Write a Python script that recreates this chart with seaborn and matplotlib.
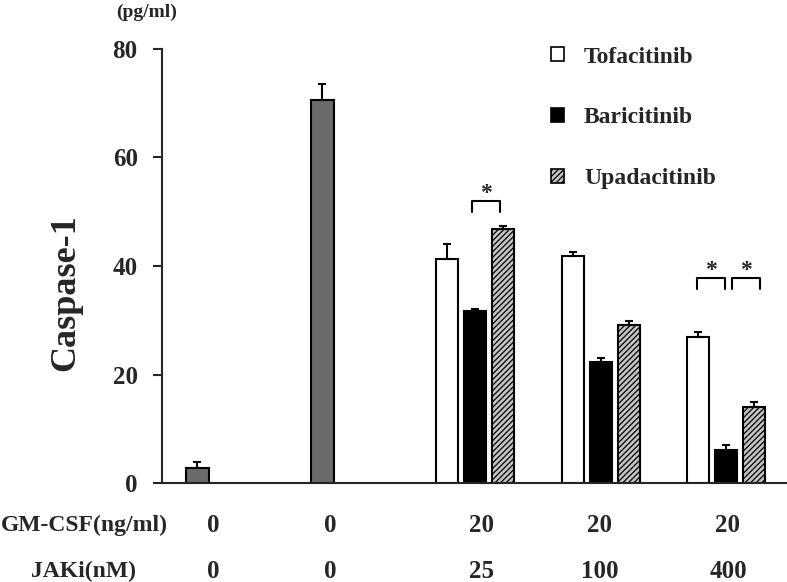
import matplotlib
matplotlib.use("Agg")
import matplotlib.pyplot as plt
from matplotlib.patches import Patch
import seaborn as sns
import pandas as pd
import numpy as np

# values (pg/ml)
control_mean = [2.7, 70.6]
control_err = [1.1, 2.9]

drugs = ["Tofacitinib", "Baricitinib", "Upadacitinib"]
tofa_mean = [41.3, 41.8, 27.0]
tofa_err = [2.8, 0.7, 0.9]
bari_mean = [31.7, 22.3, 6.1]
bari_err = [0.4, 0.7, 0.9]
upa_mean = [46.8, 29.1, 14.0]
upa_err = [0.6, 0.8, 0.9]

gmcsf_labels = ["0", "0", "20", "20", "20"]
jaki_labels = ["0", "0", "25", "100", "400"]

# layout (x in axis pixel units)
ctrl_pos = [35, 160]
drug_pos = [313, 439, 564]
label_pos = [51, 168, 320, 438, 566]

GRAY = "#6b6b6b"
colors = {"Tofacitinib": "white", "Baricitinib": "black", "Upadacitinib": "#c4c4c4"}
hatches = {"Tofacitinib": "", "Baricitinib": "", "Upadacitinib": "//////"}

sns.set_style("ticks")
plt.rcParams["font.family"] = ["Liberation Serif", "DejaVu Serif"]
plt.rcParams["font.weight"] = "bold"
plt.rcParams["hatch.linewidth"] = 0.9

ctrl_df = pd.DataFrame({"pos": ctrl_pos, "value": control_mean})
rows = []
for i, p in enumerate(drug_pos):
    rows.append({"pos": p, "drug": "Tofacitinib", "value": tofa_mean[i]})
    rows.append({"pos": p, "drug": "Baricitinib", "value": bari_mean[i]})
    rows.append({"pos": p, "drug": "Upadacitinib", "value": upa_mean[i]})
drug_df = pd.DataFrame(rows)

fig = plt.figure(figsize=(7.87, 5.82), dpi=100)
ax = fig.add_axes([162 / 787, 1 - 483 / 582, 1 - 162 / 787, (483 - 49) / 582])

sns.barplot(data=ctrl_df, x="pos", y="value", native_scale=True, orient="x",
            color=GRAY, saturation=1, edgecolor="black", linewidth=1.5,
            width=23 / 125, errorbar=None, ax=ax)
sns.barplot(data=drug_df, x="pos", y="value", hue="drug", hue_order=drugs,
            palette=colors, native_scale=True, orient="x", saturation=1,
            edgecolor="black", linewidth=1.5, width=84 / 125, gap=0.18,
            errorbar=None, legend=False, ax=ax)

# bars in left-to-right order
bars = sorted(ax.patches, key=lambda b: b.get_x())
bar_names = ["ctrl", "ctrl"] + drugs * 3
errs = list(control_err)
for i in range(3):
    errs += [tofa_err[i], bari_err[i], upa_err[i]]
for b, name in zip(bars, bar_names):
    if name in hatches:
        b.set_hatch(hatches[name])

xs = [b.get_x() + b.get_width() / 2 for b in bars]
tops = [b.get_height() for b in bars]
ax.errorbar(xs, tops, yerr=[np.zeros(len(errs)), errs], fmt="none",
            ecolor="black", elinewidth=1.5, capsize=3, capthick=1.5, zorder=3)

# significance brackets: (left bar, right bar, top, x shift)
brackets = [(3, 4, 52.0, -3), (8, 9, 37.8, -1.5), (9, 10, 37.8, 5.5)]
for li, ri, yt, dx in brackets:
    x0, x1 = xs[li] + dx, xs[ri] + dx
    ax.plot([x0, x0, x1, x1], [yt - 2.0, yt, yt, yt - 2.0], color="black", lw=1.5)
    ax.text((x0 + x1) / 2, yt + 1.4, "*", ha="center", va="center",
            fontsize=17, fontweight="bold")

ax.set_xlim(0, 625)
ax.set_ylim(0, 80)
ax.set_yticks([0, 20, 40, 60, 80])
ax.set_xticks([])
ax.set_xlabel("")
ax.set_ylabel("Caspase-1", fontsize=26, fontweight="bold")
ax.yaxis.set_label_coords(-0.128, 0.438)
ax.tick_params(axis="y", direction="out", length=6.5, width=1.5, pad=11,
               labelsize=18)
for lab in ax.get_yticklabels():
    lab.set_fontweight("bold")
sns.despine(ax=ax, top=True, right=True)
for s in ("left", "bottom"):
    ax.spines[s].set_linewidth(1.5)

fig.text(147 / 787, 1 - 12 / 582, "(pg/ml)", ha="center", va="center",
         fontsize=14, fontweight="bold")

# condition rows under the axis
trans = matplotlib.transforms.blended_transform_factory(ax.transData, fig.transFigure)
row_y = [1 - 525 / 582, 1 - 571 / 582]
fig.text(84 / 787, row_y[0], "GM-CSF(ng/ml)", ha="center", va="center",
         fontsize=17, fontweight="bold")
fig.text(84 / 787, row_y[1], "JAKi(nM)", ha="center", va="center",
         fontsize=17, fontweight="bold")
for p, g, j in zip(label_pos, gmcsf_labels, jaki_labels):
    ax.text(p, row_y[0], g, transform=trans, ha="center", va="center",
            fontsize=18, fontweight="bold", clip_on=False)
    ax.text(p, row_y[1], j, transform=trans, ha="center", va="center",
            fontsize=18, fontweight="bold", clip_on=False)

handles = [Patch(facecolor=colors[d], edgecolor="black", hatch=hatches[d],
                 linewidth=1.2) for d in drugs]
fig.legend(handles, drugs, loc="upper left", bbox_to_anchor=(0.685, 0.940),
           frameon=False, borderpad=0, handlelength=0.55, handleheight=0.55,
           handletextpad=0.85, labelspacing=1.68,
           prop={"size": 17, "weight": "bold"})

fig.savefig("out.png", dpi=100)
